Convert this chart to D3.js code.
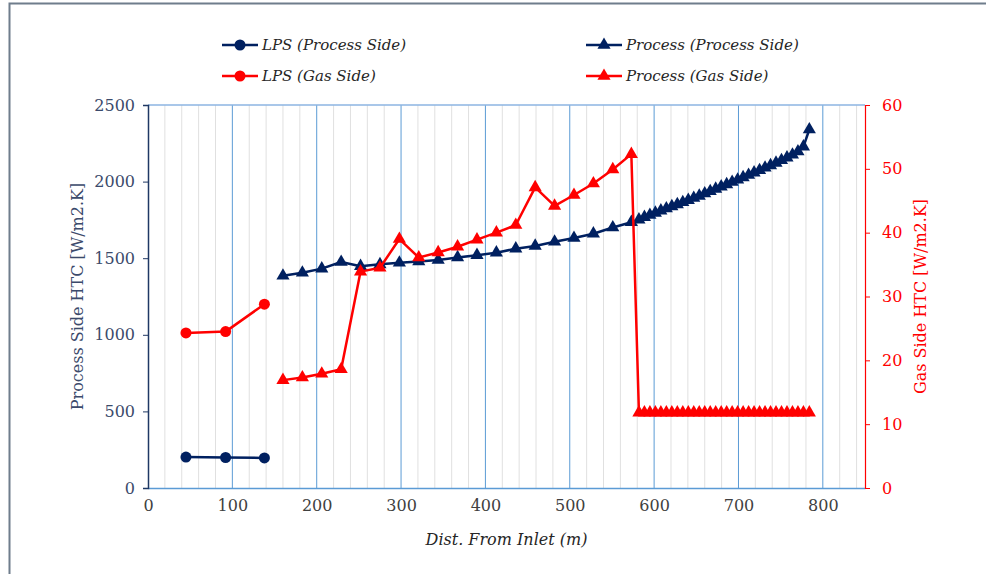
<!DOCTYPE html>
<html>
<head>
<meta charset="utf-8">
<script src="https://cdn.jsdelivr.net/npm/d3@7"></script>
<style>
  body { margin: 0; background: #fff; }
  svg text { font-family: "DejaVu Serif", serif; }
</style>
</head>
<body>
<script>
// distance along the tube (m)
var lpsX = [45, 92, 138];
var procX = [160, 183, 206, 229, 252, 275, 298, 321, 344, 367, 390, 413, 436, 459, 482, 505, 528, 551, 573,
  582, 588.5, 595, 601.5, 608, 614.5, 621, 627.5, 634, 640.5, 647, 653.5, 660, 666.5, 673, 679.5,
  686, 692.5, 699, 705.5, 712, 718.5, 725, 731.5, 738, 744.5, 751, 757.5, 764, 770.5, 777, 784];

// process side HTC (left axis)
var lpsProcess = [202, 199, 196];
var procProcess = [1385, 1405, 1432, 1475, 1448, 1460, 1470, 1478, 1488, 1505, 1520, 1536, 1562, 1580, 1607, 1632, 1660, 1700, 1735,
  1752, 1768, 1782, 1796, 1810, 1824, 1838, 1851, 1865, 1879, 1893, 1907, 1922, 1937, 1952, 1967,
  1982, 1997, 2012, 2027, 2043, 2058, 2074, 2090, 2106, 2122, 2139, 2156, 2175, 2196, 2228, 2340];

// gas side HTC (right axis)
var lpsGas = [24.3, 24.5, 28.8];
var procGas = [16.9, 17.3, 17.9, 18.6, 33.9, 34.5, 39.0, 36.1, 36.9, 37.8, 38.9, 40.0, 41.2, 47.1, 44.2, 45.9, 47.7, 49.9, 52.3,
  11.8, 11.8, 11.8, 11.8, 11.8, 11.8, 11.8, 11.8, 11.8, 11.8, 11.8, 11.8, 11.8, 11.8, 11.8, 11.8,
  11.8, 11.8, 11.8, 11.8, 11.8, 11.8, 11.8, 11.8, 11.8, 11.8, 11.8, 11.8, 11.8, 11.8, 11.8, 11.8];

var xTicks = [0, 100, 200, 300, 400, 500, 600, 700, 800];
var leftTicks = [0, 500, 1000, 1500, 2000, 2500];
var rightTicks = [0, 10, 20, 30, 40, 50, 60];

var series = [
  {name: "LPS (Process Side)", xs: lpsX, ys: lpsProcess, axis: "left", color: "#002060", shape: "circle"},
  {name: "Process (Process Side)", xs: procX, ys: procProcess, axis: "left", color: "#002060", shape: "triangle"},
  {name: "LPS (Gas Side)", xs: lpsX, ys: lpsGas, axis: "right", color: "#FF0000", shape: "circle"},
  {name: "Process (Gas Side)", xs: procX, ys: procGas, axis: "right", color: "#FF0000", shape: "triangle"}
];

var width = 986, height = 574;
var margin = {top: 105, right: 121, bottom: 86, left: 148};

var svg = d3.select("body").append("svg")
  .attr("width", width)
  .attr("height", height);

// chart frame
svg.append("rect")
  .attr("x", 9.5).attr("y", 3.5)
  .attr("width", 1000).attr("height", 600)
  .attr("fill", "#fff")
  .attr("stroke", "#6f7d8c")
  .attr("stroke-width", 2);

var x = d3.scaleLinear().domain([0, 850]).range([margin.left, width - margin.right]);
var yL = d3.scaleLinear().domain([0, 2500]).range([height - margin.bottom, margin.top]);
var yR = d3.scaleLinear().domain([0, 60]).range([height - margin.bottom, margin.top]);

// vertical gridlines
var minor = d3.range(20, 850, 20).filter(d => d % 100 != 0);
svg.append("g").selectAll("line")
  .data(minor)
  .enter().append("line")
  .attr("x1", d => x(d)).attr("x2", d => x(d))
  .attr("y1", yL(0)).attr("y2", yL(2500))
  .attr("stroke", "#e0e0e0").attr("stroke-width", 1);

svg.append("g").selectAll("line")
  .data(xTicks.slice(1))
  .enter().append("line")
  .attr("x1", d => x(d)).attr("x2", d => x(d))
  .attr("y1", yL(0)).attr("y2", yL(2500))
  .attr("stroke", "#5b9bd5").attr("stroke-width", 1);

// top border of plot area
svg.append("line")
  .attr("x1", x(0)).attr("x2", x(850))
  .attr("y1", yL(2500)).attr("y2", yL(2500))
  .attr("stroke", "#8db4e2").attr("stroke-width", 1.5);

// bottom axis
var ejeX = d3.axisBottom(x).tickValues(xTicks).tickSize(0).tickPadding(12);
var gX = svg.append("g")
  .attr("transform", "translate(0," + yL(0) + ")")
  .call(ejeX);
gX.select(".domain").attr("stroke", "#5b9bd5").attr("stroke-width", 1.5);
gX.selectAll("text").attr("font-size", 16).attr("fill", "#404040").attr("font-family", "DejaVu Serif");

// left axis
var ejeL = d3.axisLeft(yL).tickValues(leftTicks).tickFormat(d3.format("d")).tickSize(5).tickPadding(8);
var gL = svg.append("g")
  .attr("transform", "translate(" + x(0) + ",0)")
  .call(ejeL);
gL.select(".domain").attr("stroke", "#1f3864").attr("stroke-width", 1.5);
gL.selectAll(".tick line").attr("stroke", "#1f3864");
gL.selectAll("text").attr("font-size", 16).attr("fill", "#3b4a6b").attr("font-family", "DejaVu Serif");

// right axis
var ejeR = d3.axisRight(yR).tickValues(rightTicks).tickSize(5).tickPadding(12);
var gR = svg.append("g")
  .attr("transform", "translate(" + x(850) + ",0)")
  .call(ejeR);
gR.select(".domain").attr("stroke", "#ff0000").attr("stroke-width", 1.2);
gR.selectAll(".tick line").attr("stroke", "#ff0000");
gR.selectAll("text").attr("font-size", 16).attr("fill", "#ff0000").attr("font-family", "DejaVu Serif");

// axis titles
svg.append("text")
  .attr("transform", "translate(83," + ((yL(0) + yL(2500)) / 2) + ") rotate(-90)")
  .attr("text-anchor", "middle")
  .attr("font-size", 16)
  .attr("fill", "#3b4a6b")
  .text("Process Side HTC [W/m2.K]");

svg.append("text")
  .attr("transform", "translate(926," + ((yR(0) + yR(60)) / 2) + ") rotate(-90)")
  .attr("text-anchor", "middle")
  .attr("font-size", 16)
  .attr("fill", "#ff0000")
  .text("Gas Side HTC [W/m2.K]");

svg.append("text")
  .attr("x", (x(0) + x(850)) / 2)
  .attr("y", 545)
  .attr("text-anchor", "middle")
  .attr("font-size", 16)
  .attr("font-style", "italic")
  .attr("fill", "#262626")
  .text("Dist. From Inlet (m)");

// lines and markers
var triangulo = d3.symbol().type(d3.symbolTriangle).size(75);

series.forEach(function (s) {
  var esc = s.axis == "left" ? yL : yR;
  var puntos = s.xs.map((d, i) => [d, s.ys[i]]);
  var linea = d3.line().x(d => x(d[0])).y(d => esc(d[1]));

  svg.append("path")
    .datum(puntos)
    .attr("d", linea)
    .attr("fill", "none")
    .attr("stroke", s.color)
    .attr("stroke-width", 2.5)
    .attr("stroke-linejoin", "round");

  if (s.shape == "circle") {
    svg.append("g").selectAll("circle")
      .data(puntos)
      .enter().append("circle")
      .attr("cx", d => x(d[0]))
      .attr("cy", d => esc(d[1]))
      .attr("r", 5.5)
      .attr("fill", s.color);
  } else {
    svg.append("g").selectAll("path")
      .data(puntos)
      .enter().append("path")
      .attr("d", triangulo)
      .attr("transform", d => "translate(" + x(d[0]) + "," + esc(d[1]) + ")")
      .attr("fill", s.color);
  }
});

// legend
var leyenda = [
  {s: series[0], lx: 222, ly: 45},
  {s: series[1], lx: 586, ly: 45},
  {s: series[2], lx: 222, ly: 76},
  {s: series[3], lx: 586, ly: 76}
];

leyenda.forEach(function (l) {
  var g = svg.append("g").attr("transform", "translate(" + l.lx + "," + l.ly + ")");
  g.append("line")
    .attr("x1", 0).attr("x2", 36)
    .attr("y1", 0).attr("y2", 0)
    .attr("stroke", l.s.color).attr("stroke-width", 2.5);
  if (l.s.shape == "circle") {
    g.append("circle").attr("cx", 18).attr("cy", 0).attr("r", 5.5).attr("fill", l.s.color);
  } else {
    g.append("path").attr("d", triangulo).attr("transform", "translate(18,0)").attr("fill", l.s.color);
  }
  g.append("text")
    .attr("x", 40).attr("y", 0)
    .attr("dy", "0.35em")
    .attr("font-size", 15)
    .attr("font-style", "italic")
    .attr("fill", "#262626")
    .text(l.s.name);
});
</script>
</body>
</html>
